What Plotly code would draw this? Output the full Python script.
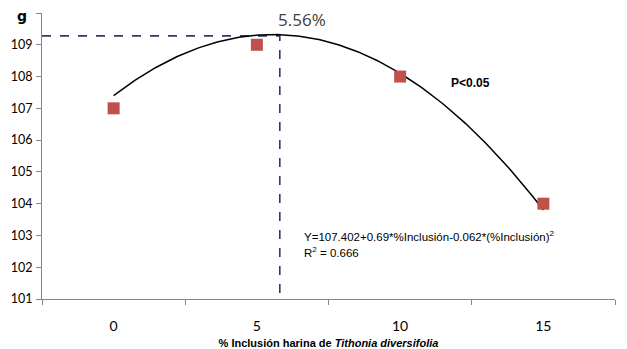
import numpy as np
import plotly.graph_objects as go

# Data
inclusion = [0, 5, 10, 15]
weight_g = [107, 109, 108, 104]
x_tick_labels = ["0", "5", "10", "15"]
y_ticks = [101, 102, 103, 104, 105, 106, 107, 108, 109, 110]
y_tick_labels = ["101", "102", "103", "104", "105", "106", "107", "108", "109", ""]
y_unit = "g"
coef = [107.402, 0.69, -0.062]
optimum_x = 5.8      # position of the vertical reference line as drawn
optimum_y = 109.28
r2 = 0.666

xs = np.linspace(0, 15, 200)
ys = coef[0] + coef[1] * xs + coef[2] * xs ** 2

dash_col = "#2E3A6B"
fig = go.Figure()
fig.add_trace(go.Scatter(x=[-2.5, optimum_x, optimum_x], y=[optimum_y, optimum_y, 101],
                         mode="lines", line=dict(color=dash_col, width=1.6, dash="dash"),
                         hoverinfo="skip", showlegend=False))
fig.add_trace(go.Scatter(x=xs, y=ys, mode="lines", line=dict(color="black", width=1.5),
                         showlegend=False))
fig.add_trace(go.Scatter(x=inclusion, y=weight_g, mode="markers",
                         marker=dict(symbol="square", size=12, color="#C0504D"),
                         showlegend=False))
# helper trace for boundary ticks axis
fig.add_trace(go.Scatter(x=[0], y=[105], xaxis="x2", mode="markers",
                         marker=dict(opacity=0), hoverinfo="skip", showlegend=False))

font = "Lato"
# page body has an 8px margin, so the figure is sized to fit the 627x349 window
fig.update_layout(
    width=619, height=341,
    margin=dict(l=34, r=12, t=5, b=50),
    paper_bgcolor="white", plot_bgcolor="white",
    font=dict(family=font, size=13, color="black"),
    xaxis=dict(range=[-2.5, 17.5], tickvals=inclusion, ticktext=x_tick_labels,
               ticks="outside", ticklen=14, tickcolor="rgba(0,0,0,0)", automargin=False,
               showgrid=False, zeroline=False, showline=True, linecolor="#868686",
               linewidth=1, tickfont=dict(size=14),
               title=dict(text="<b>% Inclusión harina de <i>Tithonia diversifolia</i></b>",
                          font=dict(family="Liberation Sans", size=11), standoff=6)),
    xaxis2=dict(range=[-2.5, 17.5], overlaying="x", anchor="y", side="bottom",
                tickvals=[-2.5, 2.5, 7.5, 12.5, 17.5], ticks="outside", ticklen=5,
                tickcolor="#868686", showticklabels=False, showgrid=False,
                zeroline=False, showline=False, automargin=False),
    yaxis=dict(range=[101, 110], tickvals=y_ticks, ticktext=y_tick_labels,
               ticks="outside", ticklen=5, tickcolor="#868686", automargin=False,
               showgrid=False, zeroline=False, showline=True, linecolor="#868686",
               linewidth=1, tickfont=dict(size=12.5), ticklabelstandoff=1),
)

fig.add_annotation(x=(22 - 42) / 573, y=1 - (16 - 13) / 286, xref="paper", yref="paper",
                   text="<b>%s</b>" % y_unit, showarrow=False,
                   font=dict(family="DejaVu Sans", size=14), xanchor="center", yanchor="middle")
fig.add_annotation(x=0.453, y=0.979, xref="paper", yref="paper", text="5.56%",
                   showarrow=False, font=dict(family="Open Sans", size=17, color="#404040"),
                   xanchor="center", yanchor="middle")
fig.add_annotation(x=(449 - 42) / 573, y=1 - (83 - 13) / 286, xref="paper", yref="paper",
                   text="<b>P<0.05</b>", showarrow=False,
                   font=dict(family="Liberation Sans", size=12), xanchor="left", yanchor="middle")
fig.add_annotation(x=(302 - 42) / 573, y=1 - (236 - 13) / 286, xref="paper", yref="paper",
                   text="Y=%.3f+%.2f*%%Inclusión%.3f*(%%Inclusión)<sup>2</sup>" % (coef[0], coef[1], coef[2]),
                   showarrow=False, font=dict(family="Liberation Sans", size=11.5),
                   xanchor="left", yanchor="middle")
fig.add_annotation(x=(302 - 42) / 573, y=1 - (252 - 13) / 286, xref="paper", yref="paper",
                   text="R<sup>2</sup> = %.3f" % r2, showarrow=False,
                   font=dict(family="Liberation Sans", size=11.5), xanchor="left", yanchor="middle")

fig.write_html("out.html")
